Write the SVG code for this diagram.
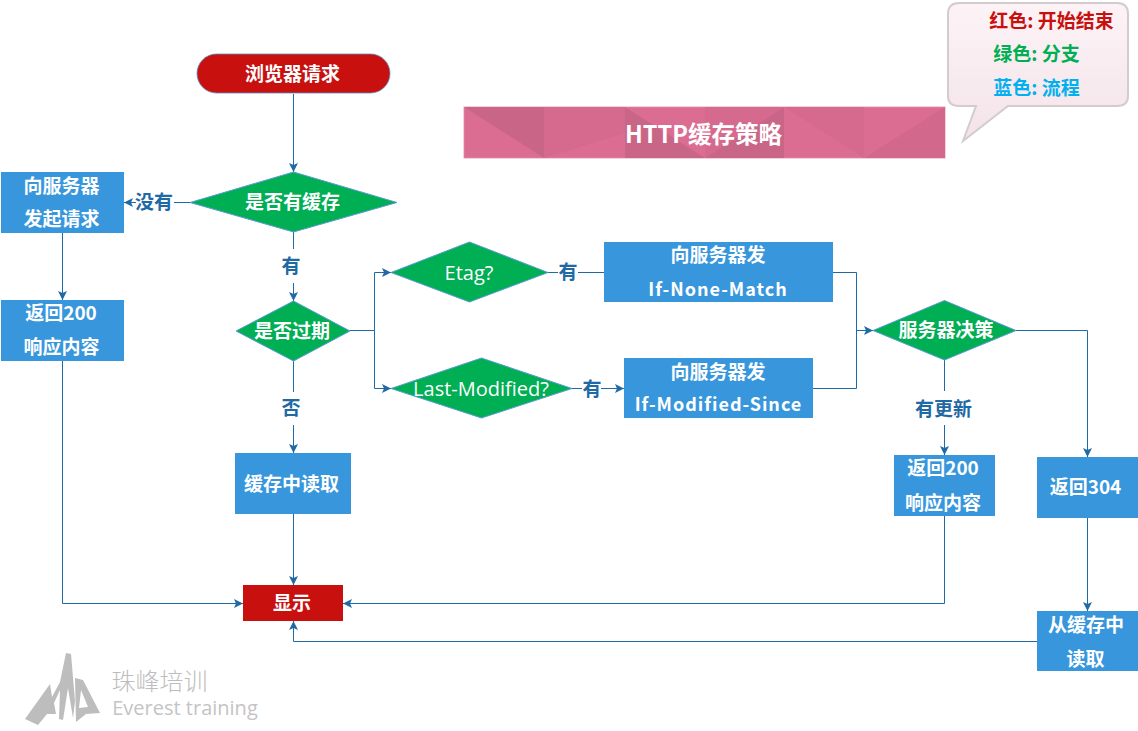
<svg xmlns="http://www.w3.org/2000/svg" width="1138" height="731" viewBox="0 0 1138 731">
<style>
text{font-family:"Noto Sans CJK SC","Liberation Sans",sans-serif;text-anchor:middle}
.t{font-size:19px;font-weight:700;fill:#fff}
.m{font-size:18px;font-weight:700;fill:#fff;letter-spacing:1px}
.l{font-size:19px;font-weight:700;fill:#1f69a4}
.e{font-size:20px;font-weight:400;fill:#fff;font-family:"Open Sans","Noto Sans CJK SC",sans-serif}
.b{fill:#3796dc}
.d{fill:#00ae53;stroke:#5b9bd5;stroke-width:1}
.r{fill:#c8100f;stroke:#5b8fc0;stroke-width:.8}
.c{fill:none;stroke:#1f69a4;stroke-width:1;marker-end:url(#a)}
.n{fill:none;stroke:#1f69a4;stroke-width:1}
.k{font-size:19px;font-weight:700}
</style>
<defs>
<marker id="a" markerUnits="userSpaceOnUse" markerWidth="10" markerHeight="9" refX="9" refY="4.500" orient="auto"><path d="M0 0L9 4.500L0 9L2 4.500Z" fill="#1f69a4"/></marker>
<linearGradient id="g" x1="0" y1="0" x2="0" y2="1"><stop offset="0" stop-color="#fdf3f6"/><stop offset=".45" stop-color="#f8ecf0"/><stop offset="1" stop-color="#f3e3e9"/></linearGradient>
</defs>
<g id="connectors">
<path class="c" d="M293.500 94V172"/>
<path class="n" d="M190 202.500H174"/>
<path class="c" d="M136 202.500H124"/>
<path class="n" d="M293.500 232V249"/>
<path class="c" d="M293.500 283V301"/>
<path class="n" d="M350 330.500H374.500"/>
<path class="c" d="M374.500 330.500V272.500H391"/>
<path class="c" d="M374.500 330.500V388.500H391"/>
<path class="n" d="M293.500 361V392"/>
<path class="c" d="M293.500 425V453"/>
<path class="c" d="M293.500 514V585"/>
<path class="c" d="M62.500 233V300"/>
<path class="c" d="M62.500 361V603.500H243"/>
<path class="n" d="M548 272.500H558"/>
<path class="n" d="M578 272.500H604"/>
<path class="n" d="M572 388.500H582"/>
<path class="c" d="M601 388.500H624"/>
<path class="n" d="M833 272.500H856.500V388.500H811"/>
<path class="c" d="M856.500 330.500H873"/>
<path class="n" d="M944.500 360V391"/>
<path class="c" d="M944.500 425V455"/>
<path class="c" d="M1016 330.500H1087.500V457"/>
<path class="c" d="M944.500 516V603.500H343"/>
<path class="c" d="M1087.500 518V611"/>
<path class="c" d="M1037 641.500H293.500V621"/>
</g>
<g id="start"><rect class="r" x="197" y="54" width="193" height="39" rx="19.500"/><text class="t" x="292.500" y="81">浏览器请求</text></g>
<g id="title">
<rect x="464" y="107" width="481" height="51" fill="#dc6d92" stroke="#e28aa8" stroke-width=".8"/>
<path d="M464 107H544V158Z" fill="#c96687"/>
<path d="M544 107H625V133L544 158Z" fill="#d56a8e"/>
<path d="M625 107L705 158H625Z" fill="#c96687"/>
<path d="M705 158L784 107H705Z" fill="#d56a8e"/>
<path d="M705 158L784 107V158Z" fill="#c96687"/>
<path d="M784 107H864V158Z" fill="#d56a8e"/>
<path d="M864 158L945 107V158Z" fill="#d2688c"/>
<text x="703.500" y="143" font-size="23.500" font-weight="700" fill="#fff">HTTP缓存策略</text>
</g>
<g id="legend">
<path d="M959 3H1117Q1128 3 1128 14V96Q1128 106 1117 106H1008L963 141L976 106H959Q948 106 948 96V14Q948 3 959 3Z" fill="url(#g)" stroke="#d4cbce" stroke-width="2"/>
<text class="k" x="1051.500" y="28" fill="#c8100f">红色: 开始结束</text>
<text class="k" x="1036.500" y="61" fill="#00ae53">绿色: 分支</text>
<text class="k" x="1036.500" y="95" fill="#00b0f0">蓝色: 流程</text>
</g>
<g id="has-cache"><path class="d" d="M190 202.500L293.500 172L397 202.500L293.500 232Z"/><text class="t" x="292.500" y="209">是否有缓存</text></g>
<g id="request"><rect class="b" x="1" y="172" width="123" height="61"/><text class="t" x="61.500" y="193">向服务器</text><text class="t" x="61.500" y="226">发起请求</text></g>
<g id="resp200a"><rect class="b" x="1" y="300" width="123" height="61"/><text class="t" x="61" y="320">返回200</text><text class="t" x="61.500" y="354">响应内容</text></g>
<g id="expired"><path class="d" d="M236 331L293.500 301L350 331L293.500 361Z"/><text class="t" x="292" y="338">是否过期</text></g>
<g id="etag"><path class="d" d="M391 272.500L469.500 242L548 272.500L469.500 302Z"/><text class="e" x="469" y="280">Etag?</text></g>
<g id="lastmod"><path class="d" d="M391 388.500L481.500 358L572 388.500L481.500 418Z"/><text class="e" x="481" y="396">Last-Modified?</text></g>
<g id="if-none"><rect class="b" x="604" y="242" width="229" height="60"/><text class="t" x="718" y="262">向服务器发</text><text class="m" x="718" y="296">If-None-Match</text></g>
<g id="if-mod"><rect class="b" x="624" y="358" width="189" height="60"/><text class="t" x="718" y="379">向服务器发</text><text class="m" x="718.500" y="411">If-Modified-Since</text></g>
<g id="decide"><path class="d" d="M873 330.500L944.500 300.500L1016 330.500L944.500 360Z"/><text class="t" x="946" y="337">服务器决策</text></g>
<g id="read-cache"><rect class="b" x="235" y="453" width="116" height="61"/><text class="t" x="291.500" y="491">缓存中读取</text></g>
<g id="resp200b"><rect class="b" x="894" y="455" width="101" height="61"/><text class="t" x="943" y="475">返回200</text><text class="t" x="943" y="510">响应内容</text></g>
<g id="resp304"><rect class="b" x="1037" y="457" width="101" height="61"/><text class="t" x="1085.500" y="494">返回304</text></g>
<g id="read-cache2"><rect class="b" x="1037" y="611" width="101" height="60"/><text class="t" x="1086" y="632">从缓存中</text><text class="t" x="1085.500" y="666">读取</text></g>
<g id="show"><rect x="243" y="585" width="100" height="36" fill="#c8100f"/><text class="t" x="292" y="610">显示</text></g>
<g id="labels">
<text class="l" x="154" y="209">没有</text>
<text class="l" x="291" y="273">有</text>
<text class="l" x="291" y="415">否</text>
<text class="l" x="568" y="279">有</text>
<text class="l" x="592" y="396">有</text>
<text class="l" x="943.500" y="416">有更新</text>
</g>
<g id="logo">
<path d="M66 653L71 654L75 701L73 718L68 688L63 720L59 719L60 690L54 703L56 714L47 714L38 725L25 719L50 684L52 697L60 682Z" fill="#bdbdbd"/>
<path d="M75 678L83 680L100 713L86 714L76 722ZM81 690L79 708L88 707Z" fill="#bdbdbd" fill-rule="evenodd"/>
<text x="159.500" y="690" font-size="24" fill="#bdbdbd" font-weight="300">珠峰培训</text>
<text x="185" y="715" font-size="20" fill="#c4c4c4" style="font-family:'Open Sans',sans-serif">Everest training</text>
</g>
</svg>
